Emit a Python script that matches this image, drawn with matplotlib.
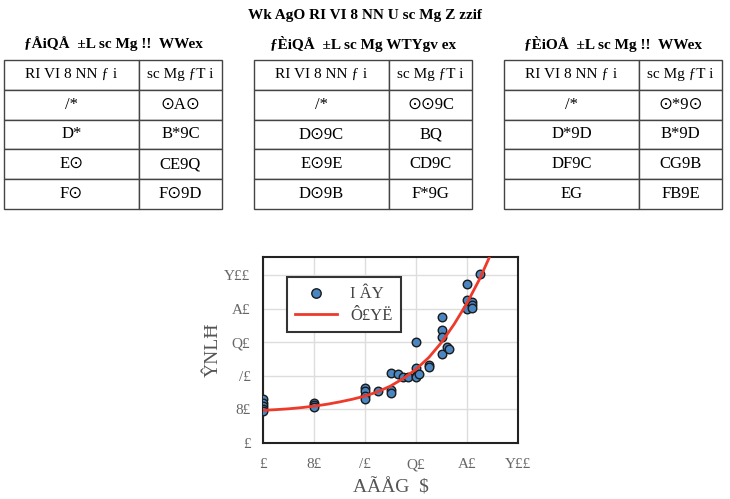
import matplotlib
matplotlib.use("Agg")
import matplotlib.pyplot as plt

plt.rcParams['font.family'] = ['Liberation Serif', 'DejaVu Sans']

# text as it appears in the reference
titulo = "Wk AgO RI VI 8 ΝΝ U sc Mg Z zzif"
titulos_tabla = ["ƒÅiQÅ  ±L sc Mg !!  WWex",
                 "ƒÈiQÅ  ±L sc Mg WTYgv ex",
                 "ƒÈiOÅ  ±L sc Mg !!  WWex"]
encabezado = ["RI VI 8 ΝΝ ƒ i", "sc Mg ƒT i"]
tabla1 = [["/*", "⊙A⊙"], ["D*", "B*9C"], ["E⊙", "CE9Q"], ["F⊙", "F⊙9D"]]
tabla2 = [["/*", "⊙⊙9C"], ["D⊙9C", "BQ"], ["E⊙9E", "CD9C"], ["D⊙9B", "F*9G"]]
tabla3 = [["/*", "⊙*9⊙"], ["D*9D", "B*9D"], ["DF9C", "CG9B"], ["EG", "FB9E"]]

ticks = [0, 20, 40, 60, 80, 100]
tick_labels = ["£", "8£", "/£", "Q£", "A£", "Y££"]
xlabel = "AÃÅG  $"
ylabel = "ŶNLĦ"
leyenda = ["I ÂY", "Ô£YË"]

# puntos medidos
x_datos = [0, 0, 0, 0, 0, 20, 20, 20, 40, 40, 40, 40, 45, 50, 50, 50, 53, 55, 57,
           60, 60, 60, 60, 61, 65, 65, 70, 70, 70, 70, 72, 73, 80, 80, 80, 82, 82, 82, 85]
y_datos = [26, 24, 22, 20, 19, 24, 22.5, 21.5, 33, 31, 28, 26, 31, 42, 31.5, 30, 41, 39.5, 39.5,
           60, 45, 40, 39.5, 41, 46.5, 45.5, 75, 67.5, 63, 53, 57.5, 56, 95, 85.5, 80, 84, 82.5, 80.5, 101]

# curva ajustada
x_curva = [0, 5, 10, 15, 20, 25, 30, 35, 40, 45, 50, 55, 60, 65, 70, 75, 80, 85, 90]
y_curva = [19.5, 19.9, 20.4, 21.1, 22, 23.1, 24.5, 26.1, 28, 30.6, 34, 38.5, 44, 51, 60, 71, 83.5, 98, 115]

fig = plt.figure(figsize=(7.3, 4.99), dpi=100)
W, H = 730, 499

fig.text(0.5, 1 - 15 / H, titulo, ha='center', va='center', fontsize=11, fontweight='bold')

posiciones = [(4, 222, 139), (254, 472, 389), (504, 722, 639)]
for (x0, x1, xd), t, datos in zip(posiciones, titulos_tabla, [tabla1, tabla2, tabla3]):
    ax_t = fig.add_axes([x0 / W, 1 - 209 / H, (x1 - x0) / W, 149 / H])
    ax_t.axis('off')
    w1 = (xd - x0) / (x1 - x0)
    tb = ax_t.table(cellText=[encabezado] + datos, cellLoc='center',
                    colWidths=[w1, 1 - w1], bbox=[0, 0, 1, 1])
    tb.auto_set_font_size(False)
    for (r, c), cell in tb.get_celld().items():
        cell.set_edgecolor('#444444')
        cell.set_linewidth(1.0)
        cell.get_text().set_fontsize(11 if r == 0 else 12)
    fig.text((x0 + x1) / 2 / W, 1 - 44 / H, t, ha='center', va='center',
             fontsize=11, fontweight='bold')

ax = fig.add_axes([263 / W, 1 - 443 / H, 255 / W, 186 / H])
ax.scatter(x_datos, y_datos, s=38, color='#4a86c2', edgecolor='#1a1a1a',
           linewidth=1.0, zorder=3, label=leyenda[0])
ax.plot(x_curva, y_curva, color='#ee3a2a', linewidth=2, zorder=4, label=leyenda[1])
ax.set_xlim(0, 100)
ax.set_ylim(0, 111)
ax.set_xticks(ticks)
ax.set_xticklabels(tick_labels)
ax.set_yticks(ticks)
ax.set_yticklabels(tick_labels)
ax.tick_params(length=0, labelsize=11, labelcolor='#666666')
ax.tick_params(axis='x', pad=11)
ax.tick_params(axis='y', pad=9)
ax.grid(True, color='#dddddd', linewidth=1)
ax.set_axisbelow(True)
for s in ax.spines.values():
    s.set_linewidth(1.5)
    s.set_color('#222222')
ax.set_xlabel(xlabel, fontsize=14, color='#555555', labelpad=6)
ax.set_ylabel(ylabel, fontsize=14, color='#555555', labelpad=2)
leg = ax.legend(loc='upper left', bbox_to_anchor=(0.094, 0.89), fontsize=12,
                fancybox=False, framealpha=1, edgecolor='#333333',
                handlelength=2.5, borderpad=0.5, borderaxespad=0,
                labelspacing=0.35, markerscale=1.1)
leg.get_frame().set_linewidth(1.5)
for txt in leg.get_texts():
    txt.set_color('#444444')

fig.savefig('out.png', dpi=100)
